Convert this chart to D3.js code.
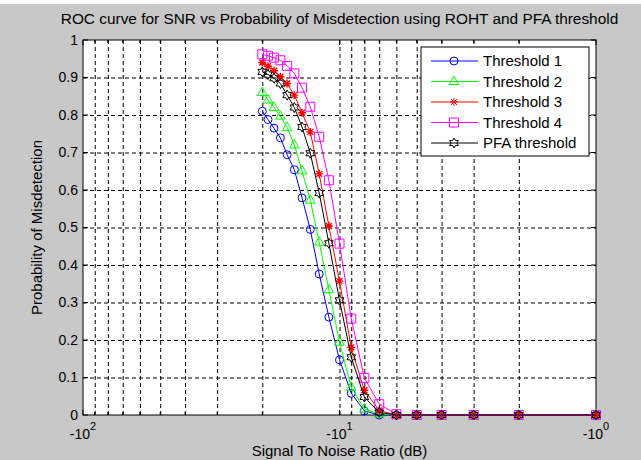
<!DOCTYPE html>
<html lang="en">
<head>
<meta charset="utf-8">
<style>
    html, body {
        margin: 0;
        padding: 0;
        background: #c8c8c8;
    }
    svg {
        display: block;
        font-family: "Liberation Sans", Arial, sans-serif;
    }
    .grid line {
        stroke: #000;
        stroke-width: 1;
        stroke-dasharray: 4, 3;
    }
    .grid path { display: none; }
</style>
</head>
<body>
<script src="https://d3js.org/d3.v7.min.js"></script>
<script>
// SNR values (dB)
var snr = [-20, -19, -18, -17, -16, -15, -14, -13, -12, -11, -10, -9, -8, -7, -6, -5, -4, -3, -2, -1];

var threshold1 = [0.81, 0.788, 0.765, 0.739, 0.694, 0.654, 0.579, 0.495, 0.376, 0.261, 0.147, 0.058, 0.011, 0, 0, 0, 0, 0, 0, 0];
var threshold2 = [0.86, 0.84, 0.82, 0.797, 0.767, 0.72, 0.651, 0.573, 0.461, 0.334, 0.194, 0.074, 0.016, 0.003, 0, 0, 0, 0, 0, 0];
var threshold3 = [0.94, 0.93, 0.918, 0.902, 0.884, 0.853, 0.806, 0.755, 0.643, 0.504, 0.357, 0.18, 0.066, 0.012, 0, 0, 0, 0, 0, 0];
var threshold4 = [0.962, 0.958, 0.953, 0.946, 0.931, 0.911, 0.873, 0.822, 0.742, 0.626, 0.457, 0.257, 0.099, 0.029, 0.002, 0, 0, 0, 0, 0];
var pfaThreshold = [0.915, 0.908, 0.898, 0.884, 0.853, 0.82, 0.768, 0.698, 0.592, 0.458, 0.306, 0.154, 0.048, 0.007, 0, 0, 0, 0, 0, 0];

var seriesNames = ['Threshold 1', 'Threshold 2', 'Threshold 3', 'Threshold 4', 'PFA threshold'];
var seriesColors = ['#0000ff', '#00ff00', '#ff0000', '#ff00ff', '#000000'];
var seriesMarkers = ['o', '^', '*', 's', 'h'];
var seriesValues = [threshold1, threshold2, threshold3, threshold4, pfaThreshold];

// axis ticks
var xMajorTicks = [-100, -10, -1];
var xMajorExponents = ['2', '1', '0'];
var xMinorTicks = [-90, -80, -70, -60, -50, -40, -30, -20, -9, -8, -7, -6, -5, -4, -3, -2];
var yTicks = [0, 0.1, 0.2, 0.3, 0.4, 0.5, 0.6, 0.7, 0.8, 0.9, 1];
var yTickLabels = ['0', '0.1', '0.2', '0.3', '0.4', '0.5', '0.6', '0.7', '0.8', '0.9', '1'];

(function () {
    var W = 641, H = 460;
    var pL = 83, pR = 596, pT = 40, pB = 415;

    var svg = d3.select('body').append('svg')
        .attr('width', W)
        .attr('height', H);

    svg.append('rect').attr('width', W).attr('height', 4).attr('fill', '#fff');

    var x = d3.scaleLog().domain([-100, -1]).range([pL, pR]);
    var y = d3.scaleLinear().domain([0, 1]).range([pB, pT]);

    // plot area
    svg.append('rect')
        .attr('x', pL).attr('y', pT)
        .attr('width', pR - pL).attr('height', pB - pT)
        .attr('fill', '#fff');

    // grid (dotted, like matlab grid on)
    svg.append('g')
        .attr('class', 'grid')
        .attr('transform', 'translate(0,' + pB + ')')
        .call(d3.axisBottom(x).tickValues(xMinorTicks.concat([-10])).tickSize(-(pB - pT)).tickFormat(''));
    svg.append('g')
        .attr('class', 'grid')
        .attr('transform', 'translate(' + pL + ',0)')
        .call(d3.axisLeft(y).tickValues(yTicks.slice(1, -1)).tickSize(-(pR - pL)).tickFormat(''));

    // ticks inside on all sides
    var tk = svg.append('g').attr('stroke', '#000').attr('stroke-width', 1);
    xMajorTicks.forEach(function (v) {
        tk.append('line').attr('x1', x(v)).attr('x2', x(v)).attr('y1', pB).attr('y2', pB - 5);
        tk.append('line').attr('x1', x(v)).attr('x2', x(v)).attr('y1', pT).attr('y2', pT + 5);
    });
    xMinorTicks.forEach(function (v) {
        tk.append('line').attr('x1', x(v)).attr('x2', x(v)).attr('y1', pB).attr('y2', pB - 3);
        tk.append('line').attr('x1', x(v)).attr('x2', x(v)).attr('y1', pT).attr('y2', pT + 3);
    });
    yTicks.forEach(function (v) {
        tk.append('line').attr('x1', pL).attr('x2', pL + 5).attr('y1', y(v)).attr('y2', y(v));
        tk.append('line').attr('x1', pR).attr('x2', pR - 5).attr('y1', y(v)).attr('y2', y(v));
    });

    // axes box
    svg.append('rect')
        .attr('x', pL).attr('y', pT)
        .attr('width', pR - pL).attr('height', pB - pT)
        .attr('fill', 'none').attr('stroke', '#000');

    // y tick labels
    svg.append('g').selectAll('text')
        .data(yTicks)
        .enter().append('text')
        .attr('x', pL - 5)
        .attr('y', function (d) { return y(d); })
        .attr('dy', '0.35em')
        .attr('text-anchor', 'end')
        .attr('font-size', 14)
        .text(function (d, i) { return yTickLabels[i]; });

    // x tick labels  -10^n
    var xl = svg.append('g').selectAll('text')
        .data(xMajorTicks)
        .enter().append('text')
        .attr('x', function (d) { return x(d); })
        .attr('y', 439)
        .attr('text-anchor', 'middle')
        .attr('font-size', 14);
    xl.append('tspan').text('-10');
    xl.append('tspan')
        .attr('dy', -9)
        .attr('font-size', 11)
        .text(function (d, i) { return xMajorExponents[i]; });

    function markerPath(type) {
        if (type === 'o') return 'M4,0A4,4 0 1,1 -4,0A4,4 0 1,1 4,0Z';
        if (type === '^') return 'M0,-5.5L4.8,3L-4.8,3Z';
        if (type === '*') return 'M-4,0H4M0,-4V4M-3,-3L3,3M-3,3L3,-3';
        if (type === 's') return 'M-4.5,-4.5H4.5V4.5H-4.5Z';
        if (type === 'h') {
            var p = [];
            for (var k = 0; k < 12; k++) {
                var r = k % 2 === 0 ? 5 : 2.9;
                var a = -Math.PI / 2 + k * Math.PI / 6;
                p.push([r * Math.cos(a), r * Math.sin(a)]);
            }
            return 'M' + p.map(function (q) { return q[0].toFixed(2) + ',' + q[1].toFixed(2); }).join('L') + 'Z';
        }
    }

    var line = d3.line()
        .x(function (d) { return x(d[0]); })
        .y(function (d) { return y(d[1]); });

    seriesValues.forEach(function (vals, s) {
        var pts = snr.map(function (v, i) { return [v, vals[i]]; });
        var g = svg.append('g');
        g.append('path')
            .attr('d', line(pts))
            .attr('fill', 'none')
            .attr('stroke', seriesColors[s])
            .attr('stroke-width', 1);
        g.selectAll('path.m')
            .data(pts)
            .enter().append('path')
            .attr('class', 'm')
            .attr('transform', function (d) { return 'translate(' + x(d[0]) + ',' + y(d[1]) + ')'; })
            .attr('d', markerPath(seriesMarkers[s]))
            .attr('fill', 'none')
            .attr('stroke', seriesColors[s])
            .attr('stroke-width', seriesMarkers[s] === '*' ? 1.4 : 1);
    });

    // legend
    var lg = svg.append('g').attr('transform', 'translate(421,47)');
    lg.append('rect')
        .attr('width', 168).attr('height', 109)
        .attr('fill', '#fff').attr('stroke', '#000');
    seriesNames.forEach(function (name, s) {
        var ly = 14 + s * 20.5;
        lg.append('line')
            .attr('x1', 10).attr('x2', 57)
            .attr('y1', ly).attr('y2', ly)
            .attr('stroke', seriesColors[s]);
        lg.append('path')
            .attr('transform', 'translate(33,' + ly + ')')
            .attr('d', markerPath(seriesMarkers[s]))
            .attr('fill', 'none')
            .attr('stroke', seriesColors[s]);
        lg.append('text')
            .attr('x', 62).attr('y', ly)
            .attr('dy', '0.35em')
            .attr('font-size', 15)
            .text(name);
    });

    // title and axis labels
    svg.append('text')
        .attr('x', (pL + pR) / 2).attr('y', 24)
        .attr('text-anchor', 'middle')
        .attr('font-size', 15.4)
        .text('ROC curve for SNR vs Probability of Misdetection using ROHT and PFA threshold');

    svg.append('text')
        .attr('x', (pL + pR) / 2).attr('y', 456)
        .attr('text-anchor', 'middle')
        .attr('font-size', 15)
        .text('Signal To Noise Ratio (dB)');

    svg.append('text')
        .attr('transform', 'translate(42,' + (pT + pB) / 2 + ') rotate(-90)')
        .attr('text-anchor', 'middle')
        .attr('font-size', 15)
        .text('Probability of Misdetection');
})();
</script>
</body>
</html>
